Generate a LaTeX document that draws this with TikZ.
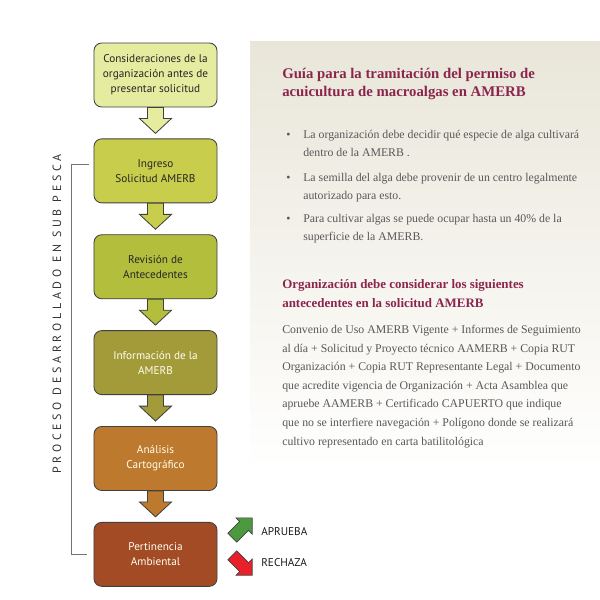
\documentclass[tikz,border=0pt]{standalone}
\usepackage{fontspec}
\setmainfont{Liberation Serif}
\newfontfamily\boxfont{PT Sans}
\usetikzlibrary{positioning,calc,shapes.arrows}

\definecolor{paso1}{RGB}{229,236,160}
\definecolor{paso2}{RGB}{200,205,76}
\definecolor{paso3}{RGB}{179,190,60}
\definecolor{paso4}{RGB}{163,155,58}
\definecolor{paso5}{RGB}{189,121,45}
\definecolor{paso6}{RGB}{162,75,36}
\definecolor{granate}{RGB}{139,37,78}
\definecolor{textogris}{RGB}{88,88,88}
\definecolor{panel}{RGB}{233,230,217}
\definecolor{verde}{RGB}{76,153,64}
\definecolor{rojo}{RGB}{232,32,42}

\begin{document}
\begin{tikzpicture}[
    x=0.025cm, y=-0.025cm,
    node distance=7.75mm,
    paso/.style={draw=black!75, line width=0.6pt, rounded corners=5.5pt, minimum width=30.75mm, minimum height=16mm, align=center, text=black!85, font=\boxfont\fontsize{8}{10.7}\selectfont},
    claro/.style={text=white!94!yellow},
    bajada/.style={draw=black!75, line width=0.6pt, to path={let \p1=(\tikztostart), \p2=(\tikztotarget) in
        (\x1-5.7pt,\y1) -- (\x1+5.7pt,\y1) -- (\x1+5.7pt,\y2+14.2pt) -- (\x1+11.4pt,\y2+14.2pt)
        -- (\x1,\y2+3.6pt) -- (\x1-11.4pt,\y2+14.2pt) -- (\x1-5.7pt,\y2+14.2pt) -- cycle}},
    corchete/.style={draw=black!55, line width=0.6pt},
    proceso/.style={text=black!80, font=\boxfont\fontsize{8.5}{10}\selectfont\addfontfeature{LetterSpace=31}},
    senal/.style={single arrow, draw=black!75, line width=0.5pt, inner xsep=0pt, inner ysep=1.5mm, minimum height=7mm, minimum width=5.5mm, single arrow head extend=1.25mm},
    decision/.style={anchor=west, inner sep=0pt, text=black!90, font=\boxfont\fontsize{8}{10}\selectfont},
    titulo/.style={anchor=base west, align=left, inner sep=0pt, text=granate, font=\bfseries\fontsize{10.5}{12.8}\selectfont},
    subtitulo/.style={anchor=base west, align=left, inner sep=0pt, text=granate, font=\bfseries\fontsize{9.2}{13.3}\selectfont},
    vineta/.style={anchor=base west, align=left, inner sep=0pt, text=textogris, font=\fontsize{8.4}{12.8}\selectfont},
    parrafo/.style={anchor=base west, align=left, inner sep=0pt, text=textogris, font=\fontsize{8.4}{13.2}\selectfont}
]
\useasboundingbox (0,0) rectangle (600,600);

% panel derecho
\shade[top color=panel, bottom color=white] (250,41) rectangle (600,470);

% pasos
\node[paso, fill=paso1] (c1) at (155.5,75) {Consideraciones de la\\organización antes de\\presentar solicitud};
\node[paso, fill=paso2, below=of c1] (c2) {Ingreso\\Solicitud AMERB};
\node[paso, fill=paso3, below=of c2] (c3) {Revisión de\\Antecedentes};
\node[paso, fill=paso4, claro, below=of c3] (c4) {Información de la\\AMERB};
\node[paso, fill=paso5, claro, below=of c4] (c5) {Análisis\\Cartográfico};
\node[paso, fill=paso6, claro, below=of c5] (c6) {Pertinencia\\Ambiental};

\draw[bajada, fill=paso1] (c1.south) to (c2.north);
\draw[bajada, fill=paso2] (c2.south) to (c3.north);
\draw[bajada, fill=paso3] (c3.south) to (c4.north);
\draw[bajada, fill=paso4] (c4.south) to (c5.north);
\draw[bajada, fill=paso5] (c5.south) to (c6.north);

% corchete lateral
\draw[corchete] ($(c2.west)+(-5,-6)$) -| ($(c6.west)+(-22,0)$) -- ($(c6.west)+(-7,0)$);
\node[proceso, rotate=90] (proc) at (57,314) {PROCESO DESARROLLADO EN SUB PESCA};

% resultado
\node[senal, fill=verde, rotate=45] (ok) at (240,530) {};
\node[senal, fill=rojo, rotate=-45] (no) at (240,563) {};
\node[decision] (aprueba) at (261,532) {APRUEBA};
\node[decision] (rechaza) at (261,563) {RECHAZA};

% textos
\node[titulo] (tit) at (282,96) {Guía para la tramitación del permiso de\\acuicultura de macroalgas en AMERB};
\node[vineta] (v1) at (303,156) {\llap{\textbullet\hspace{9pt}}La organización debe decidir qué especie de alga cultivará\\dentro de la AMERB .};
\node[vineta] (v2) at (303,199) {\llap{\textbullet\hspace{9pt}}La semilla del alga debe provenir de un centro legalmente\\autorizado para esto.};
\node[vineta] (v3) at (303,240) {\llap{\textbullet\hspace{9pt}}Para cultivar algas se puede ocupar hasta un 40\% de la\\superficie de la AMERB.};
\node[subtitulo] (sub) at (282,307) {Organización debe considerar los siguientes\\antecedentes en la solicitud AMERB};
\node[parrafo] (req) at (282,445) {Convenio de Uso AMERB Vigente + Informes de Seguimiento\\al día + Solicitud y Proyecto técnico AAMERB + Copia RUT\\Organización + Copia RUT Representante Legal + Documento\\que acredite vigencia de Organización + Acta Asamblea que\\apruebe AAMERB + Certificado CAPUERTO que indique\\que no se interfiere navegación + Polígono donde se realizará\\cultivo representado en carta batilitológica};
\end{tikzpicture}
\end{document}
